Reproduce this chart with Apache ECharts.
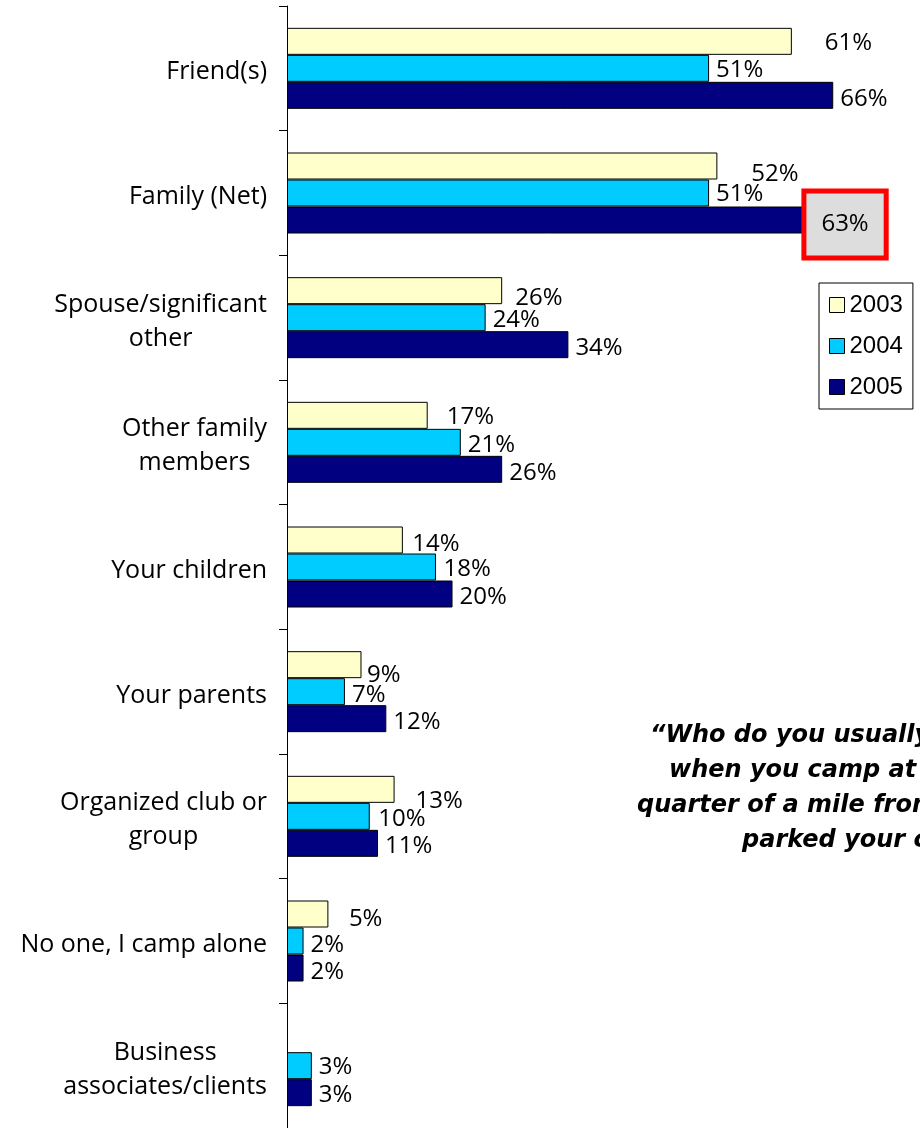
<!DOCTYPE html>
<html>
<head>
<meta charset="utf-8">
<script src="https://cdn.jsdelivr.net/npm/echarts@6/dist/echarts.min.js"></script>
<style>
html,body{margin:0;padding:0;background:#fff;}
#chart{width:920px;height:1128px;}
</style>
</head>
<body>
<div id="chart"></div>
<script>
// ---- data ----
var categories = [
  "Friend(s)",
  "Family (Net)",
  "Spouse/significant\nother",
  "Other family\nmembers",
  "Your children",
  "Your parents",
  "Organized club or\ngroup",
  "No one, I camp alone",
  "Business\nassociates/clients"
];
var seriesNames = ["2003", "2004", "2005"];
var values2003 = [61, 52, 26, 17, 14, 9, 13, 5, null];
var values2004 = [51, 51, 24, 21, 18, 7, 10, 2, 3];
var values2005 = [66, 63, 34, 26, 20, 12, 11, 2, 3];
var questionLines = [
  "\u201CWho do you usually camp with",
  "when you camp at least a",
  "quarter of a mile from where you",
  "parked your car?\u201D"
];

// ---- layout / style ----
var colors = ["#FFFFCC", "#00CCFF", "#000080"];
var labelNudges = [
  [[26,2],[27,8],[6,7],[12,2],[2.5,4],[-1.5,10.5],[14,12],[13.5,5],[0,0]],
  [[0,1.5],[0,1.5],[0,2.5],[0,3],[0.5,2],[0,3.5],[1.5,3],[0,4],[0,1.3]],
  [[0,4],[0,4],[0,3],[0,3.5],[0,2.7],[0,3.7],[0,2.7],[0,4.3],[0,2.7]]
];
var highlight = { series: 2, index: 1 };
var numFont = "Open Sans";
var catFont = "Open Sans";
var questionStarts = [650, 669, 637, 742];
var questionTop = 736;
var questionLineGap = 35;

var allValues = [values2003, values2004, values2005];

function buildData(si) {
  return allValues[si].map(function (v, i) {
    var item = {
      value: v,
      label: { offset: labelNudges[si][i] }
    };
    if (si === highlight.series && i === highlight.index) {
      item.label = {
        distance: 0,
        offset: [-2, 4.5],
        backgroundColor: "#DDDDDD",
        borderColor: "#FF0000",
        borderWidth: 5,
        padding: [17, 15],
        lineHeight: 28
      };
    }
    return item;
  });
}

var series = seriesNames.map(function (name, si) {
  return {
    name: name,
    type: "bar",
    barWidth: 27,
    barGap: "0%",
    data: buildData(si),
    itemStyle: { color: colors[si], borderColor: "#000000", borderWidth: 1 },
    label: {
      show: true,
      position: "right",
      distance: 7,
      formatter: "{c}%",
      color: "#000",
      fontFamily: numFont,
      fontSize: 24
    },
    z: 2
  };
});

var graphics = questionLines.map(function (t, i) {
  return {
    type: "text",
    x: questionStarts[i],
    y: questionTop + i * questionLineGap,
    style: {
      text: t,
      x: 0,
      y: 0,
      verticalAlign: "middle",
      align: "left",
      font: "italic bold 24px 'DejaVu Sans'",
      fill: "#000"
    }
  };
});

var chart = echarts.init(document.getElementById("chart"), null, { renderer: "canvas" });
chart.setOption({
  animation: false,
  backgroundColor: "#fff",
  grid: { left: 287, right: 4, top: 6, height: 1125, containLabel: false },
  xAxis: {
    type: "value",
    min: 0,
    max: 76,
    show: false
  },
  yAxis: {
    type: "category",
    data: categories,
    inverse: true,
    axisLine: { show: true, lineStyle: { color: "#000", width: 1 } },
    axisTick: { show: true, length: 8, lineStyle: { color: "#000" } },
    axisLabel: {
      margin: 20,
      align: "right",
      padding: [8, 0, 0, 0],
      formatter: function (v) {
        return v.split("\n").map(function (l) { return "{c|" + l + "}"; }).join("\n");
      },
      rich: {
        c: {
          align: "center",
          color: "#000",
          fontFamily: catFont,
          fontSize: 25,
          lineHeight: 34
        }
      }
    },
    splitLine: { show: false }
  },
  legend: {
    data: seriesNames,
    orient: "vertical",
    left: 819,
    top: 283,
    padding: [8, 10],
    backgroundColor: "rgba(255,255,255,1)",
    borderColor: "#000",
    borderWidth: 1,
    itemWidth: 15,
    itemHeight: 15,
    itemGap: 13,
    icon: "rect",
    itemStyle: { borderColor: "#000", borderWidth: 1 },
    textStyle: { fontFamily: "Liberation Sans", fontSize: 24, lineHeight: 28, color: "#000" }
  },
  graphic: graphics,
  series: series
});
</script>
</body>
</html>
